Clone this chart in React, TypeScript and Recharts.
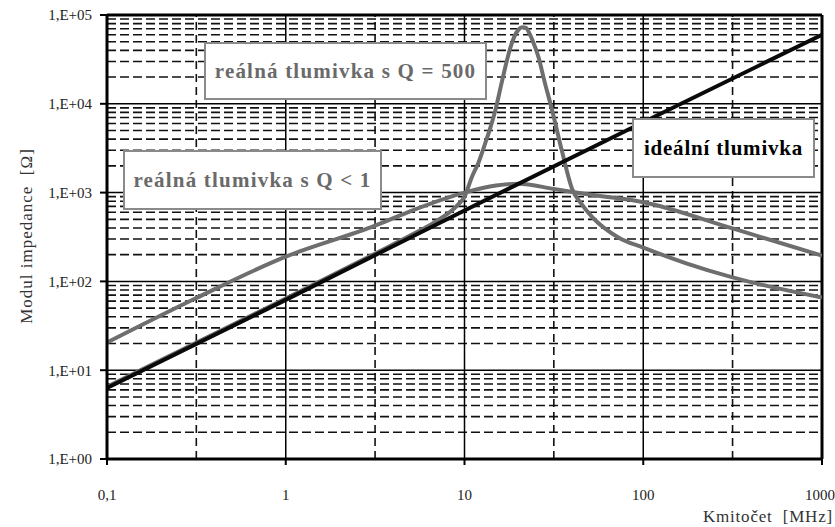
import React from 'react';
import { LineChart, Line, XAxis, YAxis, ReferenceLine } from 'recharts';

// kmitočet [MHz] a modul impedance [Ohm]
const idealFreq = [0.1, 1, 10, 100, 1000];
const idealZ = [6.3, 62, 630, 6200, 60000];

const q1Freq = [0.1, 0.316, 1, 3.16, 5, 10, 15, 20, 31.6, 50, 100, 316, 1000];
const q1Z = [20.5, 65, 190, 425, 620, 1000, 1200, 1260, 1100, 950, 780, 395, 195];

const q500Freq = [0.1, 1, 3, 5, 7, 9, 10, 11, 12, 13, 14, 15, 16, 17, 18, 19, 20, 21, 22, 23, 24, 26, 28, 31, 35, 40, 45, 52, 73, 100, 174, 316, 1000];
const q500Z = [6.5, 64, 195, 330, 480, 700, 900, 1500, 2200, 3500, 5500, 9000, 16000, 27000, 42000, 57000, 68000, 73000, 72000, 63000, 52000, 33000, 18000, 8300, 3000, 1100, 750, 525, 310, 240, 160, 111, 66];

const xTicks = [0.1, 1, 10, 100, 1000];
const xDashed = [0.316, 3.16, 31.6, 316];
const yTicks = [1, 10, 100, 1000, 10000, 100000];
const yMinorSteps = [2, 3, 4, 5, 6, 7, 8, 9];

const toData = (fs: number[], zs: number[]) => fs.map((f, i) => ({ f, z: zs[i] }));

const FONT = '"Liberation Serif", "DejaVu Serif", serif';

const yMinor = yTicks.slice(0, -1).flatMap(d => yMinorSteps.map(m => d * m));

const boxStyle = (left: number, top: number, width: number, height: number, color: string, spacing: number): React.CSSProperties => ({
    position: 'absolute',
    left,
    top,
    width,
    height,
    boxSizing: 'border-box',
    border: '2px solid #8a8a8a',
    background: '#fff',
    display: 'flex',
    alignItems: 'center',
    justifyContent: 'center',
    fontFamily: FONT,
    fontWeight: 'bold',
    fontSize: 21,
    letterSpacing: spacing,
    color,
    whiteSpace: 'nowrap',
});

export default function App() {
    return (
        <div style={{ position: 'absolute', left: 0, top: 0, width: 835, height: 527, background: '#fff' }}>
            <LineChart
                width={835}
                height={527}
                margin={{ top: 15, right: 13, left: 0, bottom: 0 }}
            >
                <XAxis
                    type="number"
                    dataKey="f"
                    scale="log"
                    domain={[0.1, 1000]}
                    ticks={xTicks}
                    allowDataOverflow
                    height={68}
                    tickFormatter={(v: number) => (v === 0.1 ? '0,1' : String(v))}
                    axisLine={{ stroke: '#000', strokeWidth: 3 }}
                    tickLine={{ stroke: '#000', strokeWidth: 2 }}
                    tickSize={6}
                    tickMargin={24}
                    tick={{ fill: '#222', fontSize: 15, fontFamily: FONT }}
                />
                <YAxis
                    type="number"
                    scale="log"
                    domain={[1, 100000]}
                    ticks={yTicks}
                    allowDataOverflow
                    width={107}
                    tickFormatter={(v: number) => '1,E+' + String(Math.round(Math.log10(v))).padStart(2, '0')}
                    axisLine={{ stroke: '#000', strokeWidth: 3 }}
                    tickLine={{ stroke: '#000', strokeWidth: 2 }}
                    tickSize={7}
                    tickMargin={8}
                    tick={{ fill: '#222', fontSize: 15, fontFamily: FONT }}
                />
                {yMinor.map(v => (
                    <ReferenceLine key={'ym' + v} y={v} stroke="#111" strokeWidth={1.6} strokeDasharray="9 4" />
                ))}
                {xDashed.map(v => (
                    <ReferenceLine key={'xd' + v} x={v} stroke="#111" strokeWidth={1.6} strokeDasharray="8 5" />
                ))}
                {yTicks.map(v => (
                    <ReferenceLine key={'yt' + v} y={v} stroke="#000" strokeWidth={v === 100000 ? 3 : 1.5} />
                ))}
                {xTicks.map(v => (
                    <ReferenceLine key={'xt' + v} x={v} stroke="#000" strokeWidth={v === 1000 ? 3 : 1.5} />
                ))}
                <Line
                    data={toData(q500Freq, q500Z)}
                    dataKey="z"
                    type="monotone"
                    stroke="#6e6e6e"
                    strokeWidth={4}
                    dot={false}
                    isAnimationActive={false}
                />
                <Line
                    data={toData(q1Freq, q1Z)}
                    dataKey="z"
                    type="monotone"
                    stroke="#6e6e6e"
                    strokeWidth={4}
                    dot={false}
                    isAnimationActive={false}
                />
                <Line
                    data={toData(idealFreq, idealZ)}
                    dataKey="z"
                    type="linear"
                    stroke="#0a0a0a"
                    strokeWidth={4}
                    dot={false}
                    isAnimationActive={false}
                />
            </LineChart>

            <div style={boxStyle(204, 42, 283, 58, '#6a6a6a', 1.2)}>reálná tlumivka s Q = 500</div>
            <div style={boxStyle(123, 150, 259, 60, '#6a6a6a', 1.2)}>reálná tlumivka s Q &lt; 1</div>
            <div style={boxStyle(632, 118, 183, 60, '#000', 0.8)}>ideální tlumivka</div>

            <div
                style={{
                    position: 'absolute',
                    left: 27,
                    top: 236,
                    transform: 'translate(-50%, -50%) rotate(-90deg)',
                    fontFamily: FONT,
                    fontSize: 17,
                    letterSpacing: 1,
                    color: '#333',
                    whiteSpace: 'nowrap',
                }}
            >
                Modul impedance&nbsp; [Ω]
            </div>
            <div
                style={{
                    position: 'absolute',
                    right: 2,
                    top: 507,
                    fontFamily: FONT,
                    fontSize: 17,
                    letterSpacing: 0.8,
                    color: '#333',
                    whiteSpace: 'nowrap',
                }}
            >
                Kmitočet&nbsp; [MHz]
            </div>
        </div>
    );
}
